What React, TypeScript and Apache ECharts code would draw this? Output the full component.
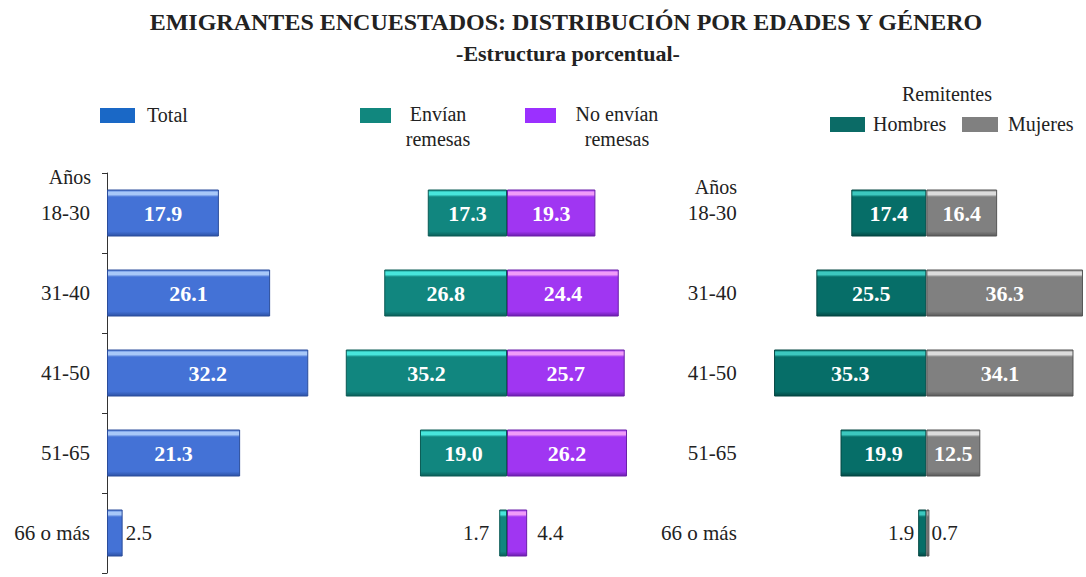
import React, { useEffect, useRef } from "react";
import * as echarts from "echarts";

const categories = ["18-30", "31-40", "41-50", "51-65", "66 o más"];
const totalVals = [17.9, 26.1, 32.2, 21.3, 2.5];
const envianVals = [17.3, 26.8, 35.2, 19.0, 1.7];
const noEnvianVals = [19.3, 24.4, 25.7, 26.2, 4.4];
const hombresVals = [17.4, 25.5, 35.3, 19.9, 1.9];
const mujeresVals = [16.4, 36.3, 34.1, 12.5, 0.7];

const SERIF = '"Liberation Serif", "Times New Roman", serif';

function grad(light: string, base: string, dark: string) {
  return new echarts.graphic.LinearGradient(0, 0, 0, 1, [
    { offset: 0, color: base },
    { offset: 0.05, color: light },
    { offset: 0.1, color: light },
    { offset: 0.15, color: base },
    { offset: 0.9, color: base },
    { offset: 1, color: dark },
  ]);
}

function makeData(vals: number[], sign: number, dist: number) {
  return vals.map((v) => {
    const small = v < 5;
    return {
      value: sign * v,
      label: small
        ? {
            position: sign < 0 ? "left" : "right",
            distance: dist,
            color: "#222",
            fontWeight: "normal",
            fontSize: 21,
          }
        : undefined,
    };
  });
}

export default function App() {
  const ref = useRef<HTMLDivElement>(null);
  useEffect(() => {
    document.body.style.margin = "0";
    const chart = echarts.init(ref.current!, null, { renderer: "svg" });
    const labelBase = {
      show: true,
      position: "inside",
      color: "#fff",
      fontWeight: "bold",
      fontSize: 22,
      fontFamily: SERIF,
      formatter: (p: any) => Math.abs(p.value).toFixed(1),
    };
    const txt = (text: string, x: number, y: number, font: string, align = "center") => ({
      type: "text",
      style: { text, x, y, font, fill: "#222", textAlign: align, verticalAlign: "middle" },
    });
    const sw = (x: number, y: number, w: number, h: number, color: string) => ({
      type: "rect",
      shape: { x, y, width: w, height: h },
      style: { fill: color },
    });
    const option: any = {
      animation: false,
      backgroundColor: "#fff",
      grid: [
        { left: 107, top: 173, width: 250, height: 400 },
        { left: 323.8, top: 173, width: 366.4, height: 400 },
        { left: 753.8, top: 173, width: 337.3, height: 400 },
      ],
      xAxis: [
        { gridIndex: 0, type: "value", min: 0, max: 40, show: false },
        { gridIndex: 1, type: "value", min: -40, max: 40, show: false },
        { gridIndex: 2, type: "value", min: -40, max: 37, show: false },
      ],
      yAxis: [
        {
          gridIndex: 0,
          type: "category",
          data: categories,
          inverse: true,
          axisLine: { show: true, lineStyle: { color: "#333", width: 1 } },
          axisTick: { show: true, length: 5, lineStyle: { color: "#333" } },
          axisLabel: { fontSize: 21, color: "#222", fontFamily: SERIF, margin: 17 },
        },
        { gridIndex: 1, type: "category", data: categories, inverse: true, show: false },
        {
          gridIndex: 2,
          type: "category",
          data: categories,
          inverse: true,
          axisLine: { show: false },
          axisTick: { show: false },
          axisLabel: { fontSize: 21, color: "#222", fontFamily: SERIF, margin: 17 },
        },
      ],
      series: [
        {
          name: "Total",
          type: "bar",
          xAxisIndex: 0,
          yAxisIndex: 0,
          barWidth: 47,
          data: makeData(totalVals, 1, 3),
          label: labelBase,
          itemStyle: { color: grad("#a8c8f8", "#4472d6", "#2d52a6"), borderColor: "#2a4c9a", borderWidth: 1 },
        },
        {
          name: "Envían remesas",
          type: "bar",
          stack: "m",
          xAxisIndex: 1,
          yAxisIndex: 1,
          barWidth: 47,
          data: makeData(envianVals, -1, 10),
          label: labelBase,
          itemStyle: { color: grad("#48e6dc", "#11867f", "#0b5e59"), borderColor: "#0a5a55", borderWidth: 1 },
        },
        {
          name: "No envían remesas",
          type: "bar",
          stack: "m",
          xAxisIndex: 1,
          yAxisIndex: 1,
          barWidth: 47,
          data: makeData(noEnvianVals, 1, 10),
          label: labelBase,
          itemStyle: { color: grad("#f09cf8", "#a036f2", "#6d1eaf"), borderColor: "#6a1fa8", borderWidth: 1 },
        },
        {
          name: "Hombres",
          type: "bar",
          stack: "r",
          xAxisIndex: 2,
          yAxisIndex: 2,
          barWidth: 47,
          data: makeData(hombresVals, -1, 4),
          label: labelBase,
          itemStyle: { color: grad("#3cc8bf", "#066e68", "#034a46"), borderColor: "#034541", borderWidth: 1 },
        },
        {
          name: "Mujeres",
          type: "bar",
          stack: "r",
          xAxisIndex: 2,
          yAxisIndex: 2,
          barWidth: 47,
          data: makeData(mujeresVals, 1, 2),
          label: labelBase,
          itemStyle: { color: grad("#dcdcdc", "#808080", "#5a5a5a"), borderColor: "#555", borderWidth: 1 },
        },
      ],
      graphic: [
        txt("EMIGRANTES ENCUESTADOS: DISTRIBUCIÓN POR EDADES Y GÉNERO", 566, 22, `bold 24px ${SERIF}`),
        txt("-Estructura porcentual-", 568, 53, `bold 22px ${SERIF}`),
        sw(100, 108, 35, 15, "#1a68c6"),
        txt("Total", 147, 115, `20px ${SERIF}`, "left"),
        sw(360, 108, 31, 15, "#11877e"),
        txt("Envían", 438, 114, `20px ${SERIF}`),
        txt("remesas", 438, 139, `20px ${SERIF}`),
        sw(525, 108, 31, 15, "#9b30ff"),
        txt("No envían", 617, 114, `20px ${SERIF}`),
        txt("remesas", 617, 139, `20px ${SERIF}`),
        txt("Remitentes", 947, 94, `20px ${SERIF}`),
        sw(830, 117, 35, 15, "#0b6b66"),
        txt("Hombres", 873, 124, `20px ${SERIF}`, "left"),
        sw(962, 117, 36, 15, "#808080"),
        txt("Mujeres", 1008, 124, `20px ${SERIF}`, "left"),
        txt("Años", 91, 177, `20px ${SERIF}`, "right"),
        txt("Años", 737, 187, `20px ${SERIF}`, "right"),
      ],
    };
    chart.setOption(option);
    return () => chart.dispose();
  }, []);
  return <div ref={ref} style={{ width: 1086, height: 577 }} />;
}
